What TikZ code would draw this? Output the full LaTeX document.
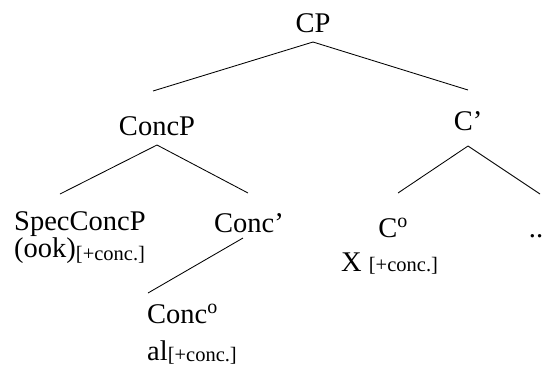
\documentclass[tikz,border=0pt]{standalone}
\usepackage{fontspec}
\setmainfont{Liberation Serif}
\usetikzlibrary{positioning}

\tikzset{
    cat/.style={inner sep=0pt, anchor=base, font=\fontsize{28.5}{31}\selectfont},
    branch/.style={line width=0.85pt}
}
\newcommand{\featsize}{\fontsize{20.5}{23}\selectfont}

\begin{document}
\begin{tikzpicture}[x=1pt, y=-1pt]

    \useasboundingbox (0,0) rectangle (548,368);

    % Nodos del arbol
    \node[cat] (cp) at (313,32) {CP};
    \node[cat] (concp) at (157,135) {ConcP};
    \node[cat] (cbar) at (468,130) {C’};
    \node[cat, anchor=base west] (spec) at (14,230) {SpecConcP};
    \node[cat, anchor=base west] (ook) at (14,257) {(ook)\raisebox{-3pt}{\featsize[+conc.]}};
    \node[cat] (concbar) at (249,232) {Conc’};
    \node[cat] (chead) at (393,237) {C\textsuperscript{o}};
    \node[cat, anchor=base west] (x) at (341,271) {X {\featsize[+conc.]}};
    \node[cat] (dots) at (536,237) {..};
    \node[cat, anchor=base west] (conchead) at (147,323) {Conc\textsuperscript{o}};
    \node[cat, anchor=base west] (al) at (147,360) {al\raisebox{-1pt}{\featsize[+conc.]}};

    % Extremos de las ramas
    \coordinate (cpfoot) at (313,42);
    \coordinate (concptop) at (153,91);
    \coordinate (cbartop) at (468,90);
    \coordinate (concpfoot) at (157,145);
    \coordinate (spectop) at (60,194);
    \coordinate (concbartop) at (248,193);
    \coordinate (cbarfoot) at (468,146);
    \coordinate (cheadtop) at (398,193);
    \coordinate (dotstop) at (540,194);
    \coordinate (concbarfoot) at (243,238);
    \coordinate (concheadtop) at (148,293);

    % Ramas
    \draw[branch] (cpfoot) -- (concptop);
    \draw[branch] (cpfoot) -- (cbartop);
    \draw[branch] (concpfoot) -- (spectop);
    \draw[branch] (concpfoot) -- (concbartop);
    \draw[branch] (cbarfoot) -- (cheadtop);
    \draw[branch] (cbarfoot) -- (dotstop);
    \draw[branch] (concbarfoot) -- (concheadtop);

\end{tikzpicture}
\end{document}
